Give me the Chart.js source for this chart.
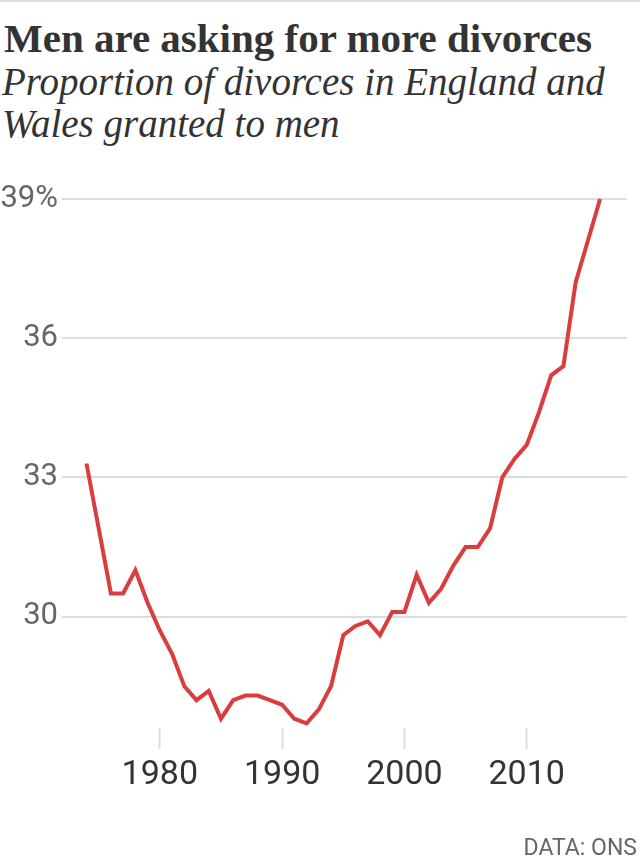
<!DOCTYPE html>
<html>
<head>
<meta charset="utf-8">
<script src="https://cdn.jsdelivr.net/npm/chart.js@4.4.0/dist/chart.umd.min.js"></script>
<style>
  html, body { margin: 0; padding: 0; background: #fff; }
  body { width: 640px; height: 863px; position: relative; overflow: hidden; }
  #topline { position: absolute; left: 0; top: 0; width: 640px; height: 2px; background: #dddddd; }
  #title { position: absolute; left: 4px; top: 18px; font: bold 41px/41px "Liberation Serif", serif; color: #333; white-space: nowrap; }
  #subtitle { position: absolute; left: 2px; top: 61px; font: italic 39px/42px "Liberation Serif", serif; color: #333; width: 636px; }
  #source { position: absolute; right: 3px; top: 836px; font: 23px/23px Roboto, sans-serif; color: #666; }
  #chart { position: absolute; left: 0; top: 0; }
</style>
</head>
<body>
<div id="topline"></div>
<div id="title">Men are asking for more divorces</div>
<div id="subtitle">Proportion of divorces in England and<br>Wales granted to men</div>
<canvas id="chart" width="640" height="863"></canvas>
<div id="source">DATA: ONS</div>
<script>
const years = [1974, 1975, 1976, 1977, 1978, 1979, 1980, 1981, 1982, 1983,
  1984, 1985, 1986, 1987, 1988, 1989, 1990, 1991, 1992, 1993,
  1994, 1995, 1996, 1997, 1998, 1999, 2000, 2001, 2002, 2003,
  2004, 2005, 2006, 2007, 2008, 2009, 2010, 2011, 2012, 2013,
  2014, 2015, 2016];
const menShare = [33.3, 31.9, 30.5, 30.5, 31.0, 30.3, 29.7, 29.2, 28.5, 28.2,
  28.4, 27.8, 28.2, 28.3, 28.3, 28.2, 28.1, 27.8, 27.7, 28.0,
  28.5, 29.6, 29.8, 29.9, 29.6, 30.1, 30.1, 30.9, 30.3, 30.6,
  31.1, 31.5, 31.5, 31.9, 33.0, 33.4, 33.7, 34.4, 35.2, 35.4,
  37.2, 38.1, 39.0];
const xTicks = [1980, 1990, 2000, 2010];
const yTicks = [30, 33, 36, 39];

const points = years.map((y, i) => ({ x: y, y: menShare[i] }));

new Chart(document.getElementById('chart'), {
  type: 'line',
  data: {
    datasets: [{
      data: points,
      borderColor: '#d93d3d',
      borderWidth: 4,
      pointRadius: 0,
      tension: 0,
      clip: false
    }]
  },
  options: {
    responsive: false,
    animation: false,
    layout: { padding: { top: 199, right: 13, bottom: 65, left: 0 } },
    plugins: { legend: { display: false }, tooltip: { enabled: false } },
    scales: {
      x: {
        type: 'linear',
        min: 1972,
        max: 2018.2,
        afterBuildTicks: s => { s.ticks = xTicks.map(v => ({ value: v })); },
        afterFit: s => { s.height = 70; },
        border: { display: false },
        grid: { drawOnChartArea: false, drawTicks: true, tickLength: 21, tickColor: '#dddddd', tickWidth: 2 },
        ticks: {
          color: '#333',
          font: { family: 'Roboto', size: 34 },
          padding: 6,
          maxRotation: 0,
          callback: v => String(v)
        }
      },
      y: {
        min: 27.6,
        max: 39,
        afterBuildTicks: s => { s.ticks = yTicks.map(v => ({ value: v })); },
        afterFit: s => { s.width = 62; },
        border: { display: false },
        grid: { color: '#dddddd', lineWidth: 2, drawTicks: false },
        ticks: {
          color: '#666',
          font: { family: 'Roboto', size: 31 },
          padding: 4,
          callback: v => v === 39 ? '39%' : String(v)
        }
      }
    }
  }
});
</script>
</body>
</html>
